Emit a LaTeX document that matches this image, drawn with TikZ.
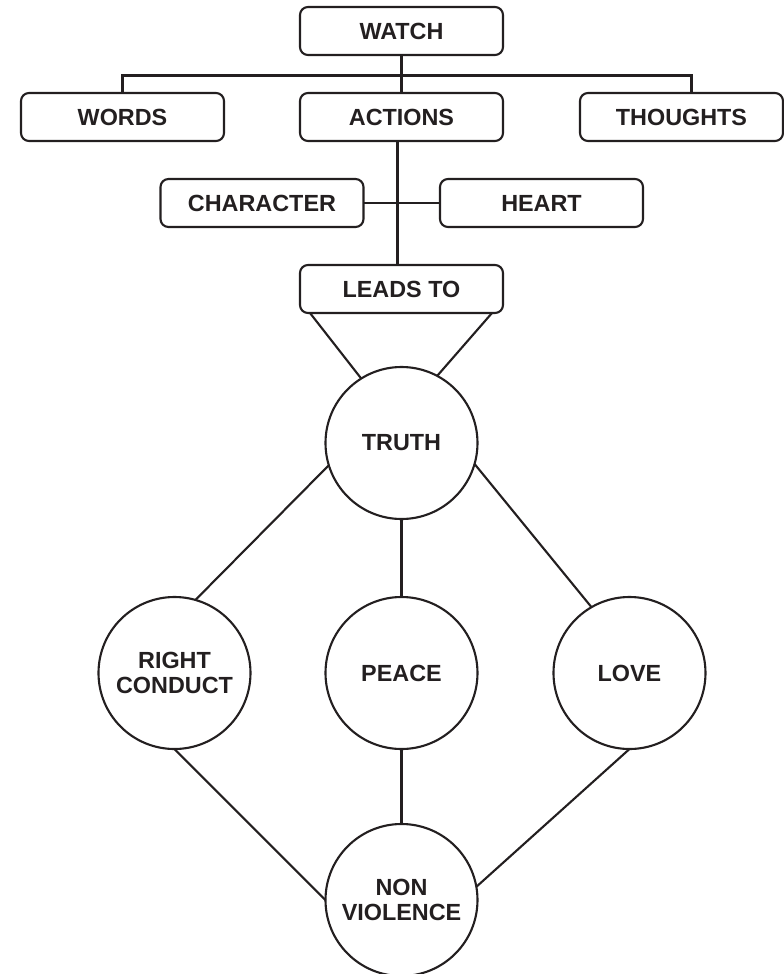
\documentclass[tikz,border=0pt]{standalone}
\usepackage{fontspec}
\setmainfont{Liberation Sans}
\usepackage{tikz}
\usetikzlibrary{positioning, calc}
\usepackage{xcolor}
\definecolor{ink}{HTML}{231F20}

\begin{document}
\begin{tikzpicture}[
  every node/.style={font=\fontsize{13.3}{14.6}\selectfont\bfseries, text=ink},
  box/.style={draw=ink, line width=1.2pt, rounded corners=0.16cm, minimum width=4.06cm, minimum height=0.96cm, inner sep=0pt, outer sep=0pt, align=center},
  virtue/.style={draw=ink, line width=1.2pt, circle, minimum size=3.04cm, inner sep=0pt, outer sep=0pt, align=center},
  link/.style={draw=ink, line width=1.2pt}
]
  \useasboundingbox (-8.03,0.62) rectangle (7.65,-18.86);

  % What to watch
  \node[box] (watch) at (0,0) {WATCH};
  \node[box, below=0.76cm of watch]   (actions)  {ACTIONS};
  \node[box, left=1.52cm of actions]  (words)    {WORDS};
  \node[box, right=1.54cm of actions] (thoughts) {THOUGHTS};
  % Inner layer
  \node[box, below=0.76cm of actions, xshift=-2.79cm] (character) {CHARACTER};
  \node[box, below=0.76cm of actions, xshift=2.8cm]   (heart)     {HEART};
  \node[box, below=2.48cm of actions] (leadsto) {LEADS TO};

  % Human values
  \node[virtue, below=1.08cm of leadsto] (truth) {TRUTH};
  \node[virtue, below=1.56cm of truth]   (peace) {PEACE};
  \node[virtue, left=1.5cm of peace]     (conduct) {RIGHT\\CONDUCT};
  \node[virtue, right=1.52cm of peace]   (love)  {LOVE};
  \node[virtue, below=1.5cm of peace]    (nonviolence) {NON\\VIOLENCE};

  % Tree connectors
  \draw[link] (watch) -- (actions);
  \draw[link] (words.north) -- ++(0,0.35) -| ([xshift=0.2cm]thoughts.north);
  \draw[link] ([xshift=-0.08cm]actions.south) -- ([xshift=-0.08cm]actions.south |- leadsto.north);
  \draw[link] (character) -- (heart);
  \draw[link] ([xshift=0.2cm]leadsto.south west) -- (truth.122);
  \draw[link] ([xshift=-0.22cm]leadsto.south east) -- (truth.62);

  % Value connectors
  \draw[link] (truth.197) -- (conduct.74);
  \draw[link] (truth) -- (peace);
  \draw[link] (truth.344) -- (love.120);
  \draw[link] (conduct.south) -- (nonviolence.west);
  \draw[link] (peace) -- (nonviolence);
  \draw[link] (love.south) -- (nonviolence.10);
\end{tikzpicture}
\end{document}
